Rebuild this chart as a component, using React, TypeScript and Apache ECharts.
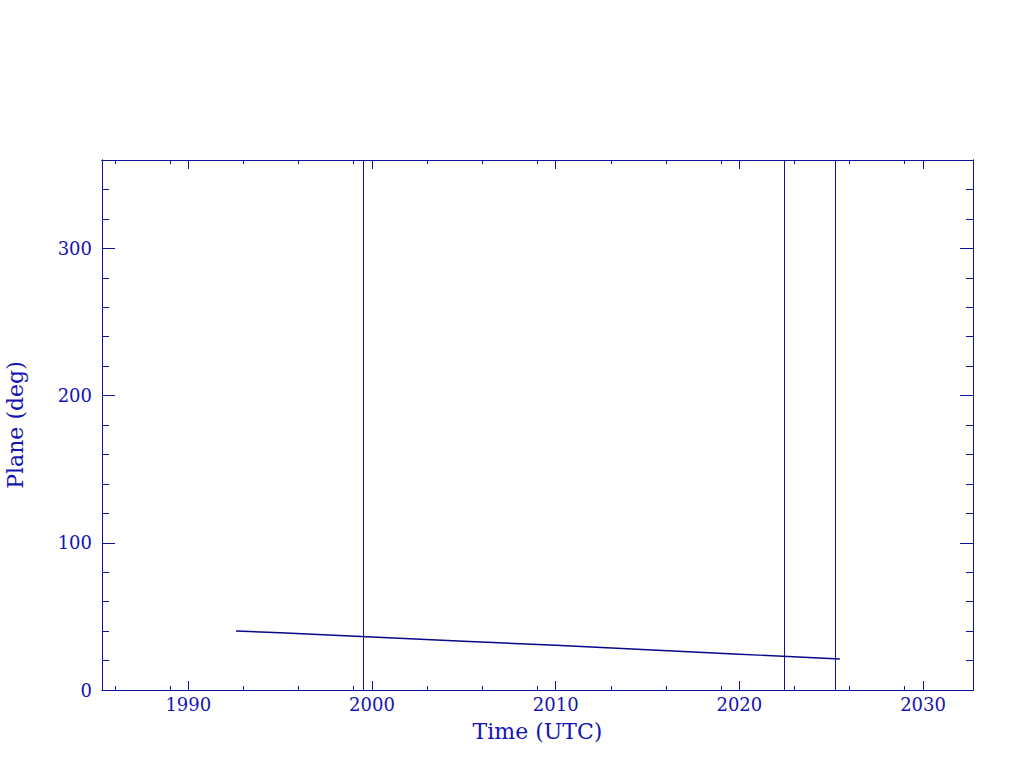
import React, { useEffect, useRef } from "react";
import * as echarts from "echarts";

// ---- data ----
const years = [1992.6, 1995, 2000, 2005, 2010, 2015, 2020, 2025.47];
const plane = [40.1, 38.9, 36.0, 33.1, 30.4, 27.3, 24.3, 21.1];
const eventYears = [1999.53, 2022.45, 2025.22];

const xMajorTicks = [1990, 2000, 2010, 2020, 2030];
const xMinorTicks = [1986, 1989, 1993, 1996, 1999, 2003, 2006, 2009, 2013, 2016, 2019, 2023, 2026, 2029];
const yMajorTicks = [0, 100, 200, 300];
const yMinorTicks = [20, 40, 60, 80, 120, 140, 160, 180, 220, 240, 260, 280, 320, 340];

const X_MIN = 1985.3;
const X_MAX = 2032.72;
const Y_MIN = 0;
const Y_MAX = 360;

const STROKE = "#10109c";
const TEXT = "#1414b4";
const FONT = "DejaVu Serif";

function xAxis(position: "top" | "bottom", ticks: number[], len: number, labels: boolean, extra: any = {}) {
  return {
    type: "value",
    position,
    min: X_MIN,
    max: X_MAX,
    axisLine: { show: true, onZero: false, lineStyle: { color: STROKE, width: 1 } },
    axisTick: { show: true, inside: true, length: len, customValues: ticks, lineStyle: { color: STROKE, width: 1 } },
    axisLabel: labels
      ? {
          show: true,
          customValues: xMajorTicks,
          formatter: (v: number) => String(v),
          color: TEXT,
          fontFamily: FONT,
          fontSize: 18,
          margin: 5,
        }
      : { show: false },
    splitLine: { show: false },
    ...extra,
  };
}

function yAxis(position: "left" | "right", ticks: number[], len: number, labels: boolean, extra: any = {}) {
  return {
    type: "value",
    position,
    min: Y_MIN,
    max: Y_MAX,
    axisLine: { show: true, onZero: false, lineStyle: { color: STROKE, width: 1 } },
    axisTick: { show: true, inside: true, length: len, customValues: ticks, lineStyle: { color: STROKE, width: 1 } },
    axisLabel: labels
      ? {
          show: true,
          customValues: yMajorTicks,
          formatter: (v: number) => String(v),
          color: TEXT,
          fontFamily: FONT,
          fontSize: 18,
          margin: 10,
        }
      : { show: false },
    splitLine: { show: false },
    ...extra,
  };
}

export default function App() {
  const ref = useRef<HTMLDivElement>(null);

  useEffect(() => {
    if (!ref.current) return;
    const chart = echarts.init(ref.current, null, { renderer: "svg" });
    chart.setOption({
      animation: false,
      backgroundColor: "#ffffff",
      grid: { left: 102, top: 160, right: 51, bottom: 78, containLabel: false, outerBoundsMode: "none" },
      xAxis: [
        xAxis("bottom", xMajorTicks, 9, true, {
          name: "Time (UTC)",
          nameLocation: "middle",
          nameGap: 30,
          nameTextStyle: { color: TEXT, fontFamily: FONT, fontSize: 22 },
        }),
        xAxis("bottom", xMinorTicks, 4, false),
        xAxis("top", xMajorTicks, 9, false),
        xAxis("top", xMinorTicks, 4, false),
      ],
      yAxis: [
        yAxis("left", yMajorTicks, 13, true, {
          name: "Plane (deg)",
          nameLocation: "middle",
          nameGap: 76,
          nameRotate: 90,
          nameTextStyle: { color: TEXT, fontFamily: FONT, fontSize: 22 },
        }),
        yAxis("left", yMinorTicks, 7, false),
        yAxis("right", yMajorTicks, 13, false),
        yAxis("right", yMinorTicks, 7, false),
      ],
      series: [
        {
          type: "line",
          xAxisIndex: 0,
          yAxisIndex: 0,
          data: years.map((y, i) => [y, plane[i]]),
          showSymbol: false,
          symbol: "none",
          lineStyle: { color: "#08088c", width: 1.4 },
          markLine: {
            silent: true,
            symbol: "none",
            label: { show: false },
            lineStyle: { color: STROKE, width: 1, type: "solid" },
            data: eventYears.map((v) => ({ xAxis: v })),
          },
        },
      ],
    });
    return () => chart.dispose();
  }, []);

  return (
    <div
      ref={ref}
      style={{ position: "fixed", left: 0, top: 0, width: 1024, height: 768, background: "#ffffff" }}
    />
  );
}
